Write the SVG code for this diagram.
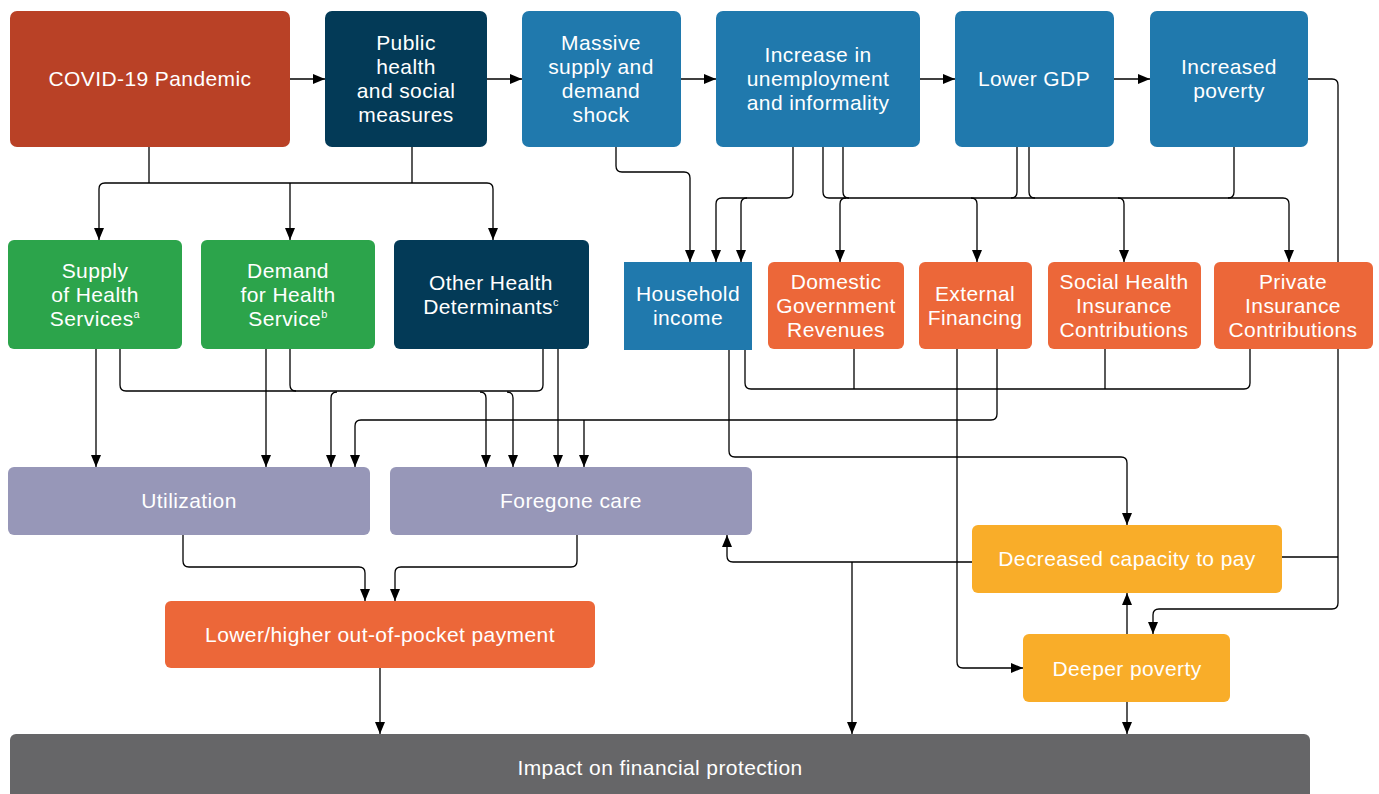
<svg xmlns="http://www.w3.org/2000/svg" width="1379" height="794" viewBox="0 0 1379 794">
<defs>
<marker id="ah" markerUnits="userSpaceOnUse" markerWidth="12" markerHeight="10" refX="12" refY="5" orient="auto" viewBox="0 0 12 10">
<path d="M0,0 L12,5 L0,10 z" fill="#000"/>
</marker>
<style>
.t{font-family:"Liberation Sans",Arial,sans-serif;font-size:21px;fill:#fff;text-anchor:middle;letter-spacing:0.4px}
.sup{font-size:11px}
.red{fill:#B94126}.navy{fill:#033A57}.blue{fill:#2079AD}.green{fill:#2CA44B}.orange{fill:#EC6739}.lav{fill:#9797B8}.gold{fill:#F9AD29}.gray{fill:#666668}
.c path{fill:none;stroke:#000;stroke-width:1.3}
.c path.a{marker-end:url(#ah)}
</style>
</defs>
<rect width="1379" height="794" fill="#fff"/>

<g class="c" id="connectors">
<path class="a" d="M290,79 H325"/>
<path class="a" d="M487,79 H522"/>
<path class="a" d="M681,79 H716"/>
<path class="a" d="M920,79 H955"/>
<path class="a" d="M1114,79 H1150"/>
<path d="M149,147 V183"/>
<path d="M412,147 V183"/>
<path d="M105,183 H487"/>
<path class="a" d="M105,183 Q99,183 99,189 V240"/>
<path class="a" d="M487,183 Q493,183 493,189 V240"/>
<path class="a" d="M290,183 V240"/>
<path class="a" d="M616,147 V166 Q616,172 622,172 H684 Q690,172 690,178 V262"/>
<path class="a" d="M793,147 V192 Q793,198 787,198 H722 Q716,198 716,204 V262"/>
<path class="a" d="M747,198 Q741,198 741,204 V262"/>
<path class="a" d="M823,147 V192 Q823,198 829,198 H1283 Q1289,198 1289,204 V262"/>
<path d="M843,147 V192 Q843,198 849,198"/>
<path class="a" d="M846,198 Q840,198 840,204 V262"/>
<path class="a" d="M971,198 Q977,198 977,204 V262"/>
<path class="a" d="M1118,198 Q1124,198 1124,204 V262"/>
<path d="M1017,147 V192 Q1017,198 1011,198"/>
<path d="M1029,147 V192 Q1029,198 1035,198"/>
<path d="M1234,147 V192 Q1234,198 1228,198"/>
<path class="a" d="M1308,79 H1332 Q1338,79 1338,85 V603 Q1338,609 1332,609 H1159 Q1153,609 1153,615 V634"/>
<path d="M1282,557 H1338"/>
<path class="a" d="M96,349 V467"/>
<path d="M120,349 V385 Q120,391 126,391 H537 Q543,391 543,385 V349"/>
<path class="a" d="M266,349 V467"/>
<path d="M290,349 V385 Q290,391 296,391"/>
<path class="a" d="M337,392 Q331,392 331,398 V467"/>
<path class="a" d="M480,392 Q486,392 486,398 V467"/>
<path class="a" d="M507,392 Q513,392 513,398 V467"/>
<path class="a" d="M558,349 V467"/>
<path class="a" d="M997,349 V414 Q997,420 991,420 H361 Q355,420 355,426 V467"/>
<path class="a" d="M584,420 V467"/>
<path class="a" d="M957,349 V662 Q957,668 963,668 H1023"/>
<path class="a" d="M729,350 V451 Q729,457 735,457 H1121 Q1127,457 1127,463 V525"/>
<path d="M745,350 V383 Q745,389 751,389 H1244 Q1250,389 1250,383 V349"/>
<path d="M854,349 V389"/>
<path d="M1105,349 V389"/>
<path class="a" d="M972,562 H733 Q727,562 727,556 V535"/>
<path class="a" d="M852,562 V734"/>
<path class="a" d="M1127,634 V593"/>
<path class="a" d="M1127,702 V734"/>
<path class="a" d="M380,668 V734"/>
<path class="a" d="M183,535 V561 Q183,567 189,567 H359 Q365,567 365,573 V601"/>
<path class="a" d="M577,535 V561 Q577,567 571,567 H401 Q395,567 395,573 V601"/>
</g>

<g id="covid"><rect class="red" x="10" y="11" width="280" height="136" rx="7"/>
<text class="t" x="150" y="86">COVID-19 Pandemic</text></g>
<g id="public-health"><rect class="navy" x="325" y="11" width="162" height="136" rx="7"/>
<text class="t" x="406" y="50">Public</text><text class="t" x="406" y="74">health</text><text class="t" x="406" y="98">and social</text><text class="t" x="406" y="122">measures</text></g>
<g id="massive-shock"><rect class="blue" x="522" y="11" width="159" height="136" rx="7"/>
<text class="t" x="601" y="50">Massive</text><text class="t" x="601" y="74">supply and</text><text class="t" x="601" y="98">demand</text><text class="t" x="601" y="122">shock</text></g>
<g id="unemployment"><rect class="blue" x="716" y="11" width="204" height="136" rx="7"/>
<text class="t" x="818" y="62">Increase in</text><text class="t" x="818" y="86">unemployment</text><text class="t" x="818" y="110">and informality</text></g>
<g id="lower-gdp"><rect class="blue" x="955" y="11" width="159" height="136" rx="7"/>
<text class="t" x="1034" y="86">Lower GDP</text></g>
<g id="increased-poverty"><rect class="blue" x="1150" y="11" width="158" height="136" rx="7"/>
<text class="t" x="1229" y="74">Increased</text><text class="t" x="1229" y="98">poverty</text></g>

<g id="supply"><rect class="green" x="8" y="240" width="174" height="109" rx="6"/>
<text class="t" x="95" y="278">Supply</text><text class="t" x="95" y="302">of Health</text><text class="t" x="95" y="326">Services<tspan class="sup" dy="-8">a</tspan></text></g>
<g id="demand"><rect class="green" x="201" y="240" width="174" height="109" rx="6"/>
<text class="t" x="288" y="278">Demand</text><text class="t" x="288" y="302">for Health</text><text class="t" x="288" y="326">Service<tspan class="sup" dy="-8">b</tspan></text></g>
<g id="other-determinants"><rect class="navy" x="394" y="240" width="195" height="109" rx="6"/>
<text class="t" x="491" y="290">Other Health</text><text class="t" x="491" y="314">Determinants<tspan class="sup" dy="-8">c</tspan></text></g>
<g id="household-income"><rect class="blue" x="624" y="262" width="128" height="88"/>
<text class="t" x="688" y="301">Household</text><text class="t" x="688" y="325">income</text></g>
<g id="domestic-revenues"><rect class="orange" x="768" y="262" width="136" height="87" rx="6"/>
<text class="t" x="836" y="289">Domestic</text><text class="t" x="836" y="313">Government</text><text class="t" x="836" y="337">Revenues</text></g>
<g id="external-financing"><rect class="orange" x="919" y="262" width="113" height="87" rx="6"/>
<text class="t" x="975" y="301">External</text><text class="t" x="975" y="325">Financing</text></g>
<g id="social-health"><rect class="orange" x="1048" y="262" width="153" height="87" rx="6"/>
<text class="t" x="1124" y="289">Social Health</text><text class="t" x="1124" y="313">Insurance</text><text class="t" x="1124" y="337">Contributions</text></g>
<g id="private-insurance"><rect class="orange" x="1214" y="262" width="159" height="87" rx="6"/>
<text class="t" x="1293" y="289">Private</text><text class="t" x="1293" y="313">Insurance</text><text class="t" x="1293" y="337">Contributions</text></g>

<g id="utilization"><rect class="lav" x="8" y="467" width="362" height="68" rx="6"/>
<text class="t" x="189" y="508">Utilization</text></g>
<g id="foregone-care"><rect class="lav" x="390" y="467" width="362" height="68" rx="6"/>
<text class="t" x="571" y="508">Foregone care</text></g>
<g id="decreased-capacity"><rect class="gold" x="972" y="525" width="310" height="68" rx="6"/>
<text class="t" x="1127" y="566">Decreased capacity to pay</text></g>
<g id="oop"><rect class="orange" x="165" y="601" width="430" height="67" rx="6"/>
<text class="t" x="380" y="642">Lower/higher out-of-pocket payment</text></g>
<g id="deeper-poverty"><rect class="gold" x="1023" y="634" width="207" height="68" rx="6"/>
<text class="t" x="1127" y="676">Deeper poverty</text></g>
<g id="impact"><rect class="gray" x="10" y="734" width="1300" height="70" rx="6"/>
<text class="t" x="660" y="775">Impact on financial protection</text></g>
</svg>
